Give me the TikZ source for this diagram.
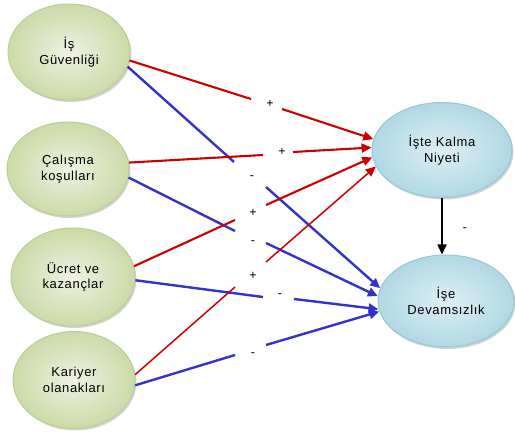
\documentclass[tikz,border=0pt]{standalone}
\usepackage{fontspec}
\setmainfont{Liberation Sans}[LetterSpace=5]
\usetikzlibrary{arrows.meta,shadows,shapes.geometric}

\definecolor{factorfill}{RGB}{238,242,226}
\definecolor{factorrim}{RGB}{203,218,168}
\definecolor{factoredge}{RGB}{186,206,146}
\definecolor{outcomefill}{RGB}{222,239,245}
\definecolor{outcomerim}{RGB}{176,216,228}
\definecolor{outcomeedge}{RGB}{150,200,214}
\definecolor{posred}{RGB}{204,0,0}
\definecolor{negblue}{RGB}{51,51,204}

\tikzset{
    factor/.style={ellipse,inner sep=0pt,minimum width=122pt,minimum height=96pt,
        draw=factoredge,line width=1pt,shading=radial,inner color=factorfill,
        outer color=factorrim,align=center,
        font=\fontsize{13}{15.5}\selectfont,
        drop shadow={shadow xshift=1.5pt,shadow yshift=-2pt,opacity=0.35}},
    outcome/.style={factor,draw=outcomeedge,inner color=outcomefill,outer color=outcomerim},
    posline/.style={draw=posred,line width=2.1pt},
    negline/.style={draw=negblue,line width=2.4pt},
    sign/.style={font=\fontsize{12.5}{12.5}\selectfont,inner sep=1pt}
}

\begin{document}
\begin{tikzpicture}[x=1pt,y=-1pt,>={Triangle[length=10pt,width=9pt]}]
    \useasboundingbox (0,0) rectangle (515,438);

    \node[factor] (isg) at (69,52) {İş\\Güvenliği};
    \node[factor,minimum height=94pt] (cal) at (68,169) {Çalışma\\koşulları};
    \node[factor,minimum width=124pt,minimum height=98pt] (ucr) at (73,277) {Ücret ve\\kazançlar};
    \node[factor,minimum height=97pt] (kar) at (74,380) {Kariyer\\olanakları};

    \node[outcome,minimum width=140pt,minimum height=95pt] (ikn) at (442,150) {İşte Kalma\\Niyeti};
    \node[outcome,minimum width=136pt,minimum height=92pt] (dev) at (446,301) {İşe\\Devamsızlık};

    % breaks in the lines, where the signs sit
    \coordinate (A) at (251,99);
    \coordinate (A') at (282,109);
    \coordinate (B) at (234,162);
    \coordinate (B') at (266,187);
    \coordinate (C) at (263,155);
    \coordinate (C') at (293,152);
    \coordinate (D) at (235,231);
    \coordinate (D') at (266,243);
    \coordinate (E) at (235,220);
    \coordinate (E') at (266,205);
    \coordinate (F) at (263,297);
    \coordinate (F') at (294,299);
    \coordinate (G) at (235,287);
    \coordinate (G') at (266,262);
    \coordinate (H) at (235,355);
    \coordinate (H') at (266,345);

    \draw[posline] (isg.-8)--(A);
    \draw[posline,->] (A')--(ikn.171);
    \draw[negline] (isg.-14)--(B);
    \draw[negline,->] (B')--(dev.169);

    \draw[posline] (cal.6)--(C);
    \draw[posline,->] (C')--(ikn.178);
    \draw[negline] (cal.-8)--(D);
    \draw[negline,->] (D')--(dev.176);

    \draw[posline] (ucr.10)--(E);
    \draw[posline,->] (E')--(ikn.186);
    \draw[negline] (ucr.-3)--(F);
    \draw[negline,->] (F')--(dev.187);

    \draw[posline,line width=1.5pt] (kar.5)--(G);
    \draw[posline,line width=1.5pt,->] (G')--(ikn.194);
    \draw[negline] (kar.-5)--(H);
    \draw[negline,->] (H')--(dev.189);

    \draw[line width=1.6pt,->] (ikn.south)--(ikn.south |- dev.north);

    \node[sign] (sA) at (270,104) {+};
    \node[sign] (sB) at (252,178) {-};
    \node[sign] (sC) at (282,152) {+};
    \node[sign] (sD) at (253,243) {-};
    \node[sign] (sE) at (253,213) {+};
    \node[sign] (sF) at (280,296) {-};
    \node[sign] (sG) at (253,276) {+};
    \node[sign] (sH) at (253,355) {-};
    \node[sign] (sI) at (465,230) {-};
\end{tikzpicture}
\end{document}
